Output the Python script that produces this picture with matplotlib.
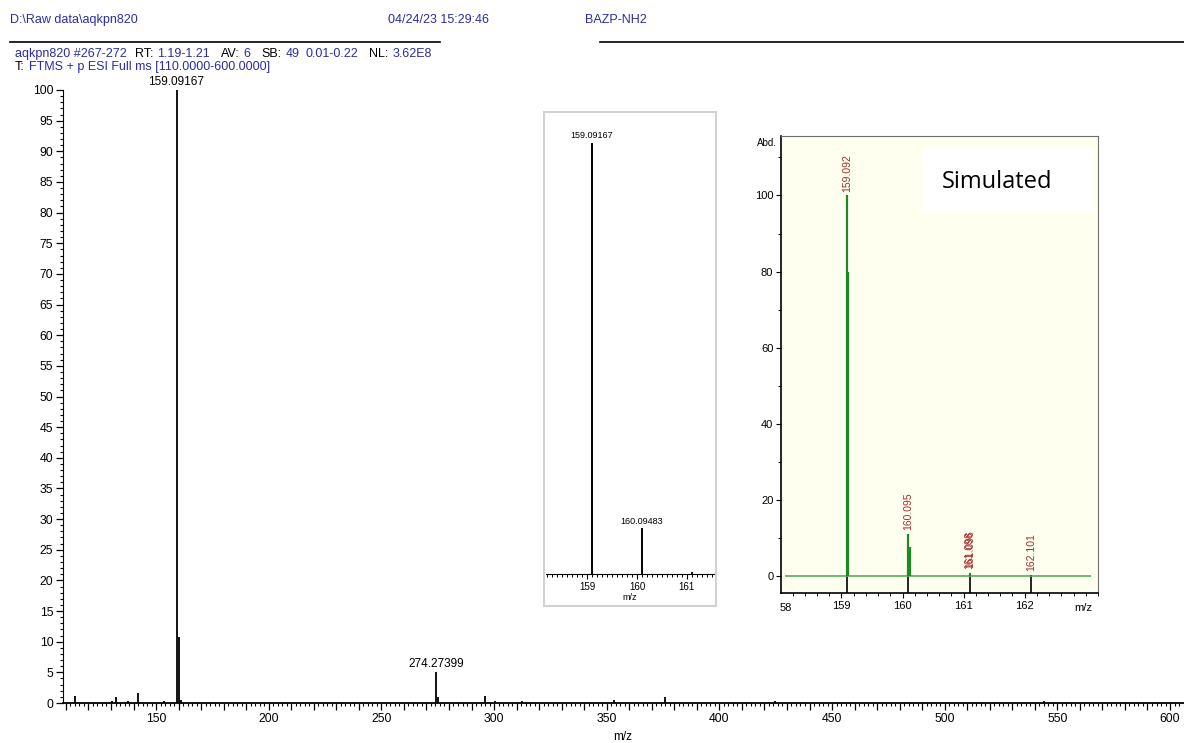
import numpy as np
import matplotlib
matplotlib.use("Agg")
import matplotlib.pyplot as plt
from matplotlib.patches import Rectangle
from matplotlib.ticker import MultipleLocator, FuncFormatter

plt.rcParams["font.family"] = ["Liberation Sans", "DejaVu Sans"]

# ---- data: measured spectrum (relative abundance) ----
main_mz = [114.1, 130.5, 132.1, 137.4, 141.9, 153.4, 159.09167, 160.09483, 161.1,
           274.27399, 275.28, 296.1, 300.3, 312.2, 353.1, 375.8, 424.5, 544.2]
main_int = [1.2, 0.4, 0.9, 0.4, 1.7, 0.4, 100.0, 10.8, 0.5,
            5.1, 0.9, 1.2, 0.3, 0.3, 0.5, 0.9, 0.3, 0.3]
main_labels = ["159.09167", "274.27399"]

# zoomed view of the molecular ion
zoom_mz = [159.09167, 160.09483, 161.10]
zoom_int = [100.0, 10.6, 0.5]
zoom_labels = ["159.09167", "160.09483"]

# simulated isotope pattern
sim_mz = [159.092, 160.095, 161.098, 162.101]
sim_int = [100.0, 11.2, 0.9, 0.3]
sim_labels = ["159.092", "160.095", "161.098", "162.101"]
sim_profile_mz = [159.092, 159.108, 160.095, 160.115, 161.098, 162.101]
sim_profile_int = [100.0, 80.0, 11.2, 7.8, 0.9, 0.3]
sim_baseline = (158.08, 163.09)

blue = "#2b2ba6"
W, H = 1184, 743


def fx(px):
    return px / W


def fy(py):
    return 1 - py / H


fig = plt.figure(figsize=(W / 100, H / 100), dpi=100)

# ---- header ----
fig.text(fx(10), fy(20), "D:\\Raw data\\aqkpn820", color=blue, fontsize=9, va="center")
fig.text(fx(388), fy(20), "04/24/23 15:29:46", color=blue, fontsize=9, va="center")
fig.text(fx(585), fy(20), "BAZP-NH2", color=blue, fontsize=9, va="center")
fig.add_artist(plt.Line2D([fx(10), fx(440)], [fy(42), fy(42)], color="black", lw=1.2))
fig.add_artist(plt.Line2D([fx(600), fx(1184)], [fy(42), fy(42)], color="black", lw=1.2))

info = [("aqkpn820 #267-272", blue, 8), ("RT:", "black", 4), ("1.19-1.21", blue, 11),
        ("AV:", "black", 4), ("6", blue, 11), ("SB:", "black", 4), ("49", blue, 6),
        ("0.01-0.22", blue, 11), ("NL:", "black", 4), ("3.62E8", blue, 0)]
renderer = fig.canvas.get_renderer()
x = 15
for s, c, gap in info:
    t = fig.text(fx(x), fy(54), s, color=c, fontsize=9, va="center")
    x += t.get_window_extent(renderer).width + gap

x = 15
for s, c, gap in [("T:", "black", 4), ("FTMS + p ESI Full ms [110.0000-600.0000]", blue, 0)]:
    t = fig.text(fx(x), fy(67), s, color=c, fontsize=9, va="center")
    x += t.get_window_extent(renderer).width + gap

# ---- main spectrum ----
ax = fig.add_axes([fx(63), fy(703), fx(1184 - 63), (703 - 90) / H])
ax.vlines(main_mz, 0, main_int, color="black", lw=1.3, clip_on=False)
for lab in main_labels:
    i = [f"{m:.5f}" for m in main_mz].index(lab)
    ax.text(main_mz[i], main_int[i] + 0.3, lab, ha="center", va="bottom", fontsize=8.5)
ax.set_xlim(108.7, 606.2)
ax.set_ylim(0, 100)
for sp in ["top", "right"]:
    ax.spines[sp].set_visible(False)
ax.spines["bottom"].set_linewidth(1.3)
ax.xaxis.set_major_locator(MultipleLocator(10))
ax.xaxis.set_minor_locator(MultipleLocator(2))
ax.xaxis.set_major_formatter(FuncFormatter(lambda v, p: f"{v:.0f}" if round(v) % 50 == 0 else ""))
ax.yaxis.set_major_locator(MultipleLocator(5))
ax.yaxis.set_minor_locator(MultipleLocator(1))
ax.tick_params(which="major", length=5, width=0.9, labelsize=8.8, pad=2)
ax.tick_params(which="minor", length=2.5, width=0.8)
ax.set_xlabel("m/z", fontsize=8.5, labelpad=2)
ax.xaxis.set_label_coords((623 - 63) / (1184 - 63), -0.045)

# ---- zoomed inset ----
fig.add_artist(Rectangle((fx(544), fy(606)), fx(172), 494 / H, transform=fig.transFigure,
                         fill=False, ec="#d2d2d2", lw=1.5))
ax1 = fig.add_axes([fx(546), fy(574), fx(168), (574 - 143) / H])
ax1.vlines(zoom_mz, 0, zoom_int, color="black", lw=1.4)
for m, v, lab in zip(zoom_mz, zoom_int, zoom_labels):
    ax1.text(m, v + 0.6, lab, ha="center", va="bottom", fontsize=6.5)
ax1.set_xlim(158.17, 161.55)
ax1.set_ylim(0, 100)
for sp in ["top", "right", "left"]:
    ax1.spines[sp].set_visible(False)
ax1.set_yticks([])
ax1.xaxis.set_major_locator(MultipleLocator(1))
ax1.xaxis.set_minor_locator(MultipleLocator(0.1))
ax1.tick_params(which="major", length=3.5, width=0.8, labelsize=7, pad=2)
ax1.tick_params(which="minor", length=2, width=0.7)
ax1.set_xlabel("m/z", fontsize=6.5, labelpad=1)

# ---- simulated pattern ----
fig.add_artist(Rectangle((fx(752), fy(613)), fx(350), 480 / H, transform=fig.transFigure,
                         fc="#f0f0f0", ec="none", zorder=0))
ax2 = fig.add_axes([fx(781), fy(593), fx(1098 - 781), (593 - 136) / H], facecolor="#fffff0")
ax2.set_xlim(158.01, 163.2)
ax2.set_ylim(-4.35, 115.6)
ax2.vlines(sim_mz, -4.35, 0, color="black", lw=1.2)
ax2.hlines(0, *sim_baseline, color="#5aaa5a", lw=1.2)
ax2.vlines(sim_profile_mz, 0, sim_profile_int, color="#1f8a1f", lw=1.6)
red = "#a52a2a"
for m, v, lab in zip(sim_mz, sim_int, sim_labels):
    ax2.text(m, v + 1.0, lab, rotation=90, ha="center", va="bottom", fontsize=7.5, color=red)
ax2.text(161.101, sim_int[2] + 1.4, "161.096", rotation=90, ha="center", va="bottom",
         fontsize=7.5, color=red)
ax2.spines["left"].set_linewidth(1.2)
ax2.spines["bottom"].set_linewidth(1.2)
for sp in ["top", "right"]:
    ax2.spines[sp].set_color("#6e6e6e")
    ax2.spines[sp].set_linewidth(0.8)
ax2.set_xticks([159, 160, 161, 162])
ax2.xaxis.set_minor_locator(MultipleLocator(0.2))
ax2.set_yticks([0, 20, 40, 60, 80, 100])
ax2.yaxis.set_minor_locator(MultipleLocator(10))
ax2.tick_params(which="major", length=3.5, width=0.8, labelsize=8, pad=2)
ax2.tick_params(which="minor", length=2, width=0.7)
ax2.text(-0.005, -0.022, "58", transform=ax2.transAxes, ha="left", va="top", fontsize=8)
ax2.text(0.955, -0.022, "m/z", transform=ax2.transAxes, ha="center", va="top", fontsize=8)
ax2.text(-0.075, 0.985, "Abd.", transform=ax2.transAxes, ha="left", va="center", fontsize=7)
ax2.add_patch(Rectangle((0.448, 0.834), 0.536, 0.14, transform=ax2.transAxes,
                        fc="white", ec="none"))
ax2.text(0.681, 0.899, "Simulated", transform=ax2.transAxes, ha="center", va="center",
         fontsize=17, family=["Open Sans", "DejaVu Sans"])

fig.savefig("out.png", dpi=100)
